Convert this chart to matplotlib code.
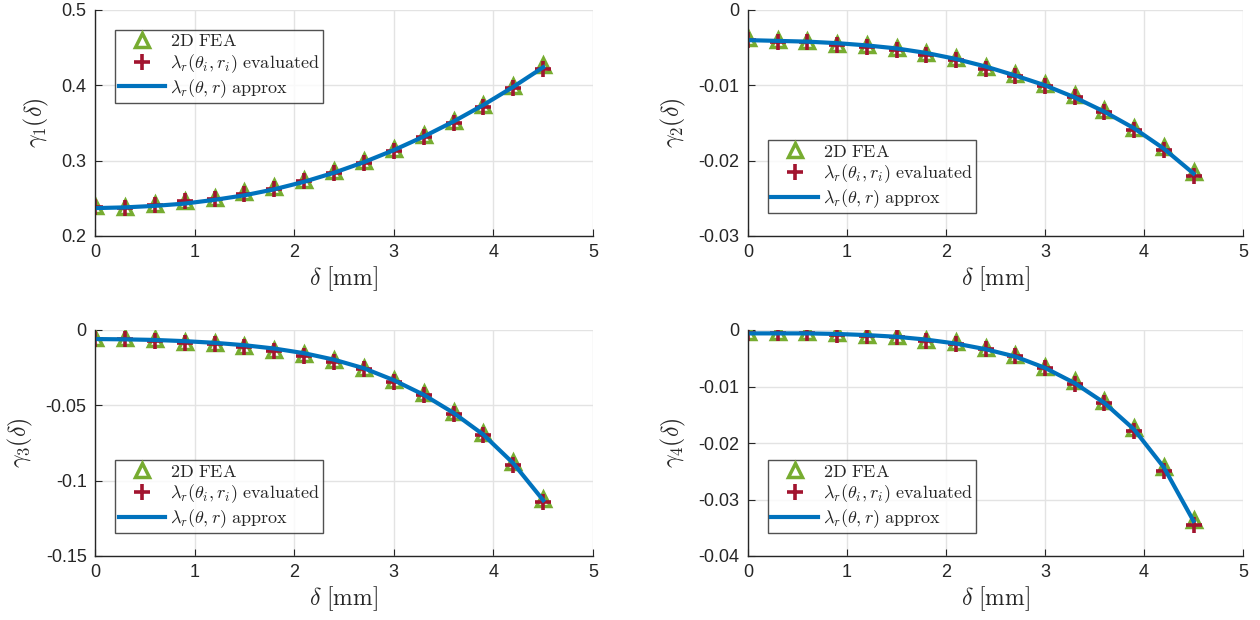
import numpy as np
import matplotlib
matplotlib.use('Agg')
import matplotlib.pyplot as plt

plt.rcParams['mathtext.fontset'] = 'cm'
plt.rcParams['font.family'] = ['Liberation Sans', 'DejaVu Sans']

delta = [0.0, 0.3, 0.6, 0.9, 1.2, 1.5, 1.8, 2.1, 2.4, 2.7, 3.0, 3.3, 3.6, 3.9, 4.2, 4.5]

# gamma_1
g1_fea = [0.240, 0.239, 0.243, 0.247, 0.251, 0.258, 0.265, 0.275, 0.286, 0.300, 0.316, 0.334, 0.353, 0.374, 0.399, 0.427]
g1_eval = [0.238, 0.237, 0.241, 0.246, 0.249, 0.256, 0.263, 0.273, 0.284, 0.297, 0.313, 0.331, 0.350, 0.371, 0.396, 0.422]
g1_line = [0.237, 0.238, 0.240, 0.243, 0.248, 0.254, 0.262, 0.272, 0.284, 0.298, 0.314, 0.332, 0.352, 0.374, 0.398, 0.424]

# gamma_2
g2_fea = [-0.0037, -0.0040, -0.0041, -0.0045, -0.0047, -0.0051, -0.0057, -0.0064, -0.0075, -0.0085, -0.0098, -0.0113, -0.0133, -0.0156, -0.0182, -0.0215]
g2_eval = [-0.0040, -0.0042, -0.0043, -0.0047, -0.0049, -0.0053, -0.0060, -0.0067, -0.0078, -0.0088, -0.0101, -0.0116, -0.0136, -0.0159, -0.0186, -0.0221]
g2_line = [-0.0040, -0.0041, -0.0042, -0.0044, -0.0047, -0.0051, -0.0057, -0.0065, -0.0075, -0.0087, -0.0100, -0.0116, -0.0135, -0.0157, -0.0184, -0.0217]

# gamma_3
g3_fea = [-0.0052, -0.0052, -0.0060, -0.0078, -0.0083, -0.0105, -0.0130, -0.0162, -0.0200, -0.0250, -0.0332, -0.0420, -0.0542, -0.0685, -0.0878, -0.1120]
g3_eval = [-0.0062, -0.0062, -0.0071, -0.0089, -0.0093, -0.0116, -0.0140, -0.0173, -0.0211, -0.0262, -0.0344, -0.0433, -0.0556, -0.0700, -0.0896, -0.1144]
g3_line = [-0.0060, -0.0062, -0.0066, -0.0074, -0.0085, -0.0101, -0.0123, -0.0154, -0.0197, -0.0254, -0.0333, -0.0430, -0.0550, -0.0695, -0.0885, -0.1130]

# gamma_4
g4_fea = [-0.0004, -0.0004, -0.0004, -0.0006, -0.0009, -0.0010, -0.0017, -0.0022, -0.0032, -0.0044, -0.0065, -0.0091, -0.0126, -0.0173, -0.0243, -0.0336]
g4_eval = [-0.0006, -0.0006, -0.0006, -0.0008, -0.0011, -0.0012, -0.0019, -0.0024, -0.0034, -0.0046, -0.0068, -0.0095, -0.0130, -0.0178, -0.0249, -0.0346]
g4_line = [-0.0006, -0.0006, -0.0006, -0.0007, -0.0009, -0.0012, -0.0017, -0.0024, -0.0034, -0.0047, -0.0067, -0.0094, -0.0129, -0.0176, -0.0243, -0.0338]

ylabels = [r'$\gamma_1(\delta)$', r'$\gamma_2(\delta)$', r'$\gamma_3(\delta)$', r'$\gamma_4(\delta)$']
ylims = [(0.2, 0.5), (-0.03, 0.0), (-0.15, 0.0), (-0.04, 0.0)]
yticks = [[0.2, 0.3, 0.4, 0.5], [-0.03, -0.02, -0.01, 0], [-0.15, -0.1, -0.05, 0], [-0.04, -0.03, -0.02, -0.01, 0]]
yticklabels = [['0.2', '0.3', '0.4', '0.5'], ['-0.03', '-0.02', '-0.01', '0'],
               ['-0.15', '-0.1', '-0.05', '0'], ['-0.04', '-0.03', '-0.02', '-0.01', '0']]
legend_locs = [(0.04, 0.912), (0.04, 0.10), (0.04, 0.10), (0.04, 0.10)]
legend_anchor = ['upper left', 'lower left', 'lower left', 'lower left']

fea = [g1_fea, g2_fea, g3_fea, g4_fea]
ev = [g1_eval, g2_eval, g3_eval, g4_eval]
approx = [g1_line, g2_line, g3_line, g4_line]

green = '#77AC30'
red = '#A2142F'
blue = '#0072BD'
axcol = '#262626'

W, H = 1260, 620
fig = plt.figure(figsize=(12.6, 6.2), dpi=100)
boxes = [(95, 10, 593, 236), (748, 10, 1243, 236), (95, 330, 593, 556), (748, 330, 1243, 556)]

for i in range(4):
    l, t, r, b = boxes[i]
    ax = fig.add_axes([l / W, 1 - b / H, (r - l) / W, (b - t) / H])
    ax.plot(delta, fea[i], linestyle='none', marker='^', markersize=10.5,
            markerfacecolor='none', markeredgecolor=green, markeredgewidth=2.5,
            label=r'$\mathrm{2D\ FEA}$')
    ax.plot(delta, ev[i], linestyle='none', marker='+', markersize=11,
            color=red, markeredgewidth=2.6,
            label=r'$\lambda_r(\theta_i,r_i)\ \mathrm{evaluated}$')
    ax.plot(delta, approx[i], color=blue, linewidth=3,
            label=r'$\lambda_r(\theta,r)\ \mathrm{approx}$')
    ax.set_xlim(0, 5)
    ax.set_ylim(*ylims[i])
    ax.set_xticks([0, 1, 2, 3, 4, 5])
    ax.set_yticks(yticks[i])
    ax.set_yticklabels(yticklabels[i])
    ax.grid(True, color='#e3e3e3', linewidth=1)
    ax.set_axisbelow(True)
    for s in ['top', 'right']:
        ax.spines[s].set_visible(False)
    for s in ['left', 'bottom']:
        ax.spines[s].set_color(axcol)
        ax.spines[s].set_linewidth(1)
    ax.tick_params(direction='in', length=5, colors=axcol, labelsize=13, pad=6)
    ax.set_xlabel(r'$\delta\ \mathrm{[mm]}$', fontsize=17, color=axcol, labelpad=2)
    ax.set_ylabel(ylabels[i], fontsize=17, color=axcol, labelpad=8)
    leg = ax.legend(loc=legend_anchor[i], bbox_to_anchor=legend_locs[i], fontsize=13,
                    frameon=True, fancybox=False, edgecolor='#262626',
                    handlelength=2.6, handletextpad=0.25, borderpad=0.2,
                    labelspacing=0.1, borderaxespad=0)
    leg.get_frame().set_linewidth(1)
    for txt in leg.get_texts():
        txt.set_color(axcol)

fig.savefig('out.png', dpi=100)
